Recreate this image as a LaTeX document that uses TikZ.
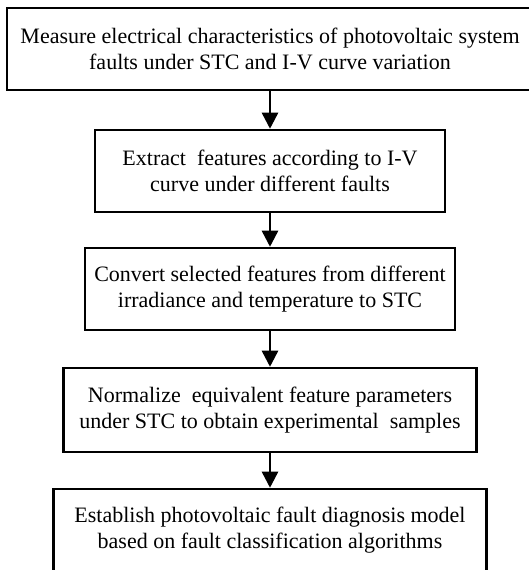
\documentclass[tikz,border=0pt]{standalone}
\usepackage{fontspec}
\setmainfont{Liberation Serif}
\usetikzlibrary{arrows.meta}
\begin{document}
\begin{tikzpicture}[>={Triangle[length=16bp,width=16bp]},line width=2.5bp,line join=miter,
  stepbox/.style={draw,align=center,inner sep=0pt,minimum height=82bp,font=\fontsize{22bp}{26bp}\selectfont}]
\useasboundingbox (0bp,0bp) rectangle (529bp,570bp);
\clip (0bp,0bp) rectangle (529bp,570bp);
%%
\node (box_0) at (270bp,521bp) [stepbox,minimum width=526bp] {Measure electrical characteristics of photovoltaic system\\faults under STC and I-V curve variation};
  \node (box_1) at (270bp,399bp) [stepbox,minimum width=350bp] {Extract\ \ features according to I-V\\curve under different faults};
  \node (box_2) at (270bp,281bp) [stepbox,minimum width=370bp] {Convert selected features from different\\irradiance and temperature to STC};
  \node (box_3) at (270bp,160bp) [stepbox,minimum width=413bp,minimum height=84bp] {Normalize\ \ equivalent feature parameters\\under STC to obtain experimental\ \ samples};
  \node (box_4) at (270bp,40bp) [stepbox,minimum width=433bp] {Establish photovoltaic fault diagnosis model\\based on fault classification algorithms};
  \draw [->] (box_0) -- (box_1);
  \draw [->] (box_1) -- (box_2);
  \draw [->] (box_2) -- (box_3);
  \draw [->] (box_3) -- (box_4);
%
\end{tikzpicture}
\end{document}
